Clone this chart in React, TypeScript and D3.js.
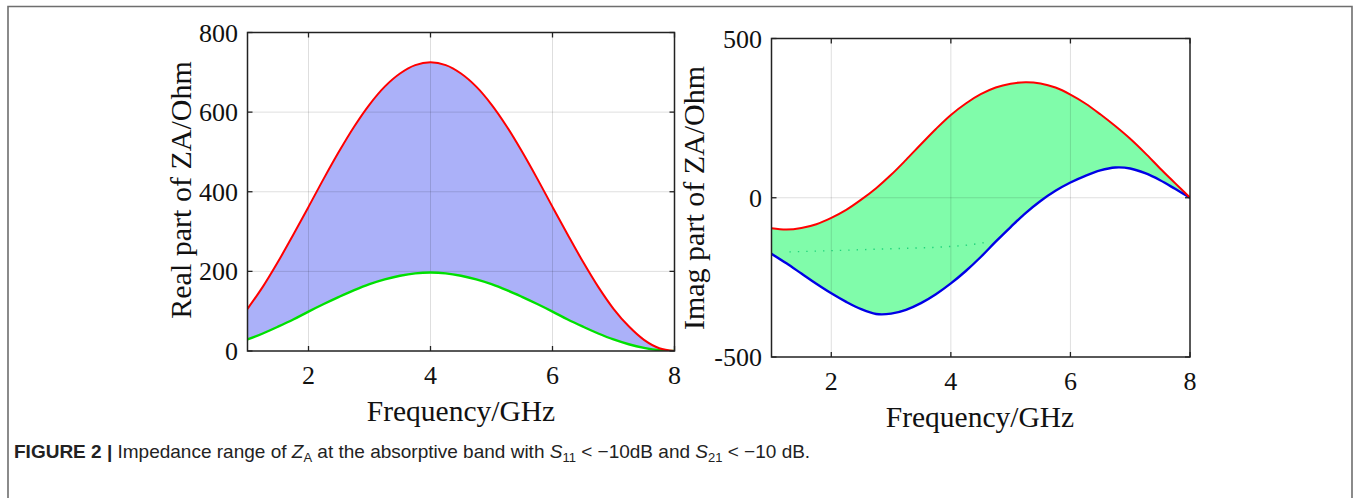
import React from 'react';
import * as d3 from 'd3';

// Frequency grid (GHz)
const freq = [1, 1.25, 1.5, 1.75, 2, 2.25, 2.5, 2.75, 3, 3.25, 3.5, 3.75, 4, 4.25, 4.5, 4.75, 5, 5.25, 5.5, 5.75, 6, 6.25, 6.5, 6.75, 7, 7.25, 7.5, 7.75, 8];

// Left panel: real part of ZA (Ohm)
const realUpper = [106, 161, 224, 292, 362, 433, 501, 564, 619, 664, 697, 718, 725, 718, 697, 664, 619, 564, 501, 433, 362, 292, 224, 161, 106, 62, 28, 7, 0];
const realLower = [29, 44, 61, 79, 99, 118, 136, 153, 168, 180, 189, 195, 197, 195, 189, 180, 168, 153, 136, 118, 99, 79, 61, 44, 29, 17, 8, 2, 0];

// Right panel: imaginary part of ZA (Ohm)
const imagUpper = [-96, -100, -95, -83, -63, -38, -6, 30, 72, 119, 168, 216, 260, 296, 325, 346, 358, 363, 359, 346, 324, 296, 262, 225, 185, 140, 92, 46, 0];
const imagLower = [-176, -206, -238, -270, -300, -327, -350, -365, -364, -352, -331, -303, -269, -230, -186, -138, -92, -48, -10, 22, 48, 69, 86, 95, 92, 77, 55, 28, 0];

// faint dotted artefact inside the right fill
const artefactF = [1.3, 2.2, 3.0, 3.8, 4.3, 4.65];
const artefactV = [-170, -165, -160, -155, -148, -138];

const xTicks = [2, 4, 6, 8];
const realTicks = [0, 200, 400, 600, 800];
const imagTicks = [-500, 0, 500];

const SERIF = '"Liberation Serif", "Times New Roman", serif';
const SANS = '"Liberation Sans", Arial, Helvetica, sans-serif';

type PanelProps = {
  id: string;
  x0: number; x1: number; y0: number; y1: number;
  yDomain: [number, number];
  yTicks: number[];
  upper: number[];
  lower: number[];
  upperColor: string;
  lowerColor: string;
  fill: string;
  yLabel: string;
  yLabelX: number;
  yLabelY: number;
  yTickX: number;
  xTickY: number;
  xLabelX: number;
  xLabelY: number;
  artefact?: boolean;
};

function Panel(p: PanelProps) {
  const x = d3.scaleLinear().domain([1, 8]).range([p.x0, p.x1]);
  const y = d3.scaleLinear().domain(p.yDomain).range([p.y1, p.y0]);
  const data = freq.map((f, i) => ({ f, u: p.upper[i], l: p.lower[i] }));
  const curve = d3.curveCatmullRom.alpha(0.5);
  const area = d3.area<any>().x(d => x(d.f)).y0(d => y(d.l)).y1(d => y(d.u)).curve(curve);
  const lineU = d3.line<any>().x(d => x(d.f)).y(d => y(d.u)).curve(curve);
  const lineL = d3.line<any>().x(d => x(d.f)).y(d => y(d.l)).curve(curve);
  const tickLen = 5;
  const art = artefactF.map((f, i) => [x(f), y(artefactV[i])] as [number, number]);
  const artLine = d3.line().curve(d3.curveMonotoneX)(art) || '';
  return (
    <g>
      <defs>
        <clipPath id={`clip-${p.id}`}>
          <rect x={p.x0} y={p.y0} width={p.x1 - p.x0} height={p.y1 - p.y0} />
        </clipPath>
      </defs>
      <g clipPath={`url(#clip-${p.id})`}>
        <path d={area(data) || ''} fill={p.fill} stroke="none" />
        {p.artefact && (
          <path d={artLine} fill="none" stroke="#22d47c" strokeWidth={1.4} strokeDasharray="1.4 7" />
        )}
        {xTicks.filter(t => t < 8).map(t => (
          <line key={`gx${t}`} x1={x(t)} x2={x(t)} y1={p.y0} y2={p.y1} stroke="rgba(0,0,0,0.13)" strokeWidth={1} />
        ))}
        {p.yTicks.slice(1, -1).map(t => (
          <line key={`gy${t}`} x1={p.x0} x2={p.x1} y1={y(t)} y2={y(t)} stroke="rgba(0,0,0,0.13)" strokeWidth={1} />
        ))}
        <path d={lineL(data) || ''} fill="none" stroke={p.lowerColor} strokeWidth={2.4} />
        <path d={lineU(data) || ''} fill="none" stroke={p.upperColor} strokeWidth={2} />
      </g>
      {xTicks.map(t => (
        <g key={`tx${t}`}>
          <line x1={x(t)} x2={x(t)} y1={p.y1} y2={p.y1 - tickLen} stroke="#222" strokeWidth={1.3} />
          <line x1={x(t)} x2={x(t)} y1={p.y0} y2={p.y0 + tickLen} stroke="#222" strokeWidth={1.3} />
          <text x={x(t)} y={p.xTickY} textAnchor="middle" fontFamily={SERIF} fontSize={26} fill="#111">{t}</text>
        </g>
      ))}
      {p.yTicks.map(t => (
        <g key={`ty${t}`}>
          <line x1={p.x0} x2={p.x0 + tickLen} y1={y(t)} y2={y(t)} stroke="#222" strokeWidth={1.3} />
          <line x1={p.x1} x2={p.x1 - tickLen} y1={y(t)} y2={y(t)} stroke="#222" strokeWidth={1.3} />
          <text x={p.yTickX} y={y(t) + 9} textAnchor="end" fontFamily={SERIF} fontSize={26} fill="#111">{t}</text>
        </g>
      ))}
      <rect x={p.x0} y={p.y0} width={p.x1 - p.x0} height={p.y1 - p.y0} fill="none" stroke="#222" strokeWidth={1.5} />
      <text x={p.xLabelX} y={p.xLabelY} textAnchor="middle" fontFamily={SERIF} fontSize={29.5} fill="#111">Frequency/GHz</text>
      <text transform={`translate(${p.yLabelX},${p.yLabelY}) rotate(-90)`} textAnchor="middle" fontFamily={SERIF} fontSize={30} fill="#111">{p.yLabel}</text>
    </g>
  );
}

export default function App() {
  return (
    <svg width={1354} height={498} style={{ position: 'absolute', left: 0, top: 0, background: '#fff' }}>
      <rect x={0} y={0} width={1354} height={498} fill="#fff" />
      <path d="M8,498 V6.5 H1352 V498" fill="none" stroke="#6e6e6e" strokeWidth={1.6} />
      <Panel
        id="re"
        x0={247.5} x1={674.5} y0={32.5} y1={351}
        yDomain={[0, 800]} yTicks={realTicks}
        upper={realUpper} lower={realLower}
        upperColor="#ff0000" lowerColor="#00e000" fill="#abb1f9"
        yLabel="Real part of ZA/Ohm" yLabelX={191} yLabelY={190}
        yTickX={238} xTickY={384} xLabelX={461} xLabelY={421}
      />
      <Panel
        id="im"
        x0={771.5} x1={1190} y0={38.5} y1={357}
        yDomain={[-500, 500]} yTicks={imagTicks}
        upper={imagUpper} lower={imagLower}
        upperColor="#ff0000" lowerColor="#0000e6" fill="#80fcaa"
        yLabel="Imag part of ZA/Ohm" yLabelX={704} yLabelY={198}
        yTickX={762} xTickY={390} xLabelX={980} xLabelY={427}
        artefact
      />
      <text x={14} y={458} fontFamily={SANS} fontSize={19} fill="#222">
        <tspan fontWeight="bold">FIGURE 2 | </tspan>
        <tspan>Impedance range of </tspan>
        <tspan fontStyle="italic">Z</tspan>
        <tspan fontSize={13} dy={4}>A</tspan>
        <tspan dy={-4}> at the absorptive band with </tspan>
        <tspan fontStyle="italic">S</tspan>
        <tspan fontSize={13} dy={4}>11</tspan>
        <tspan dy={-4}> &lt; −10dB and </tspan>
        <tspan fontStyle="italic">S</tspan>
        <tspan fontSize={13} dy={4}>21</tspan>
        <tspan dy={-4}> &lt; −10 dB.</tspan>
      </text>
    </svg>
  );
}
